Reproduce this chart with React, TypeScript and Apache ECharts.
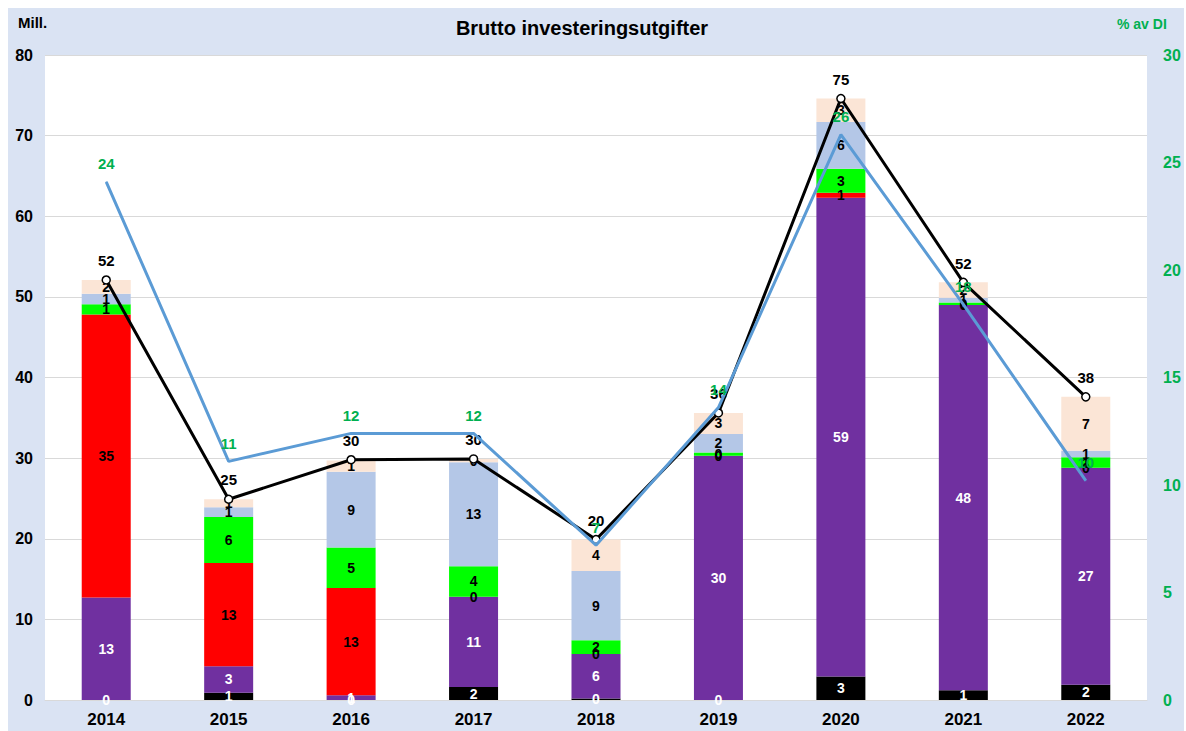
import React, { useEffect, useRef } from "react";
import * as echarts from "echarts";

const years = ["2014", "2015", "2016", "2017", "2018", "2019", "2020", "2021", "2022"];
const blackSeg = [0, 0.9, 0, 1.6, 0.2, 0, 2.9, 1.2, 1.9];
const purpleSeg = [12.7, 3.3, 0.6, 11.2, 5.5, 30.3, 59.4, 47.8, 26.9];
const redSeg = [35.1, 12.8, 13.3, 0, 0, 0, 0.6, 0, 0];
const greenSeg = [1.3, 5.7, 5.0, 3.8, 1.7, 0.4, 3.0, 0.3, 1.3];
const lightBlueSeg = [1.3, 1.2, 9.4, 12.9, 8.6, 2.3, 5.8, 0.6, 0.8];
const peachSeg = [1.7, 1.0, 1.4, 0.4, 3.9, 2.6, 2.9, 1.9, 6.7];
const totals = [52.1, 24.9, 29.8, 29.9, 19.9, 35.6, 74.6, 51.8, 37.6];
const pctOfDI = [24.1, 11.1, 12.4, 12.4, 7.2, 13.6, 26.3, 18.4, 10.2];
const leftTicks = { min: 0, max: 80, interval: 10 };
const rightTicks = { min: 0, max: 30, interval: 5 };

const FONT = 'Arial, "Liberation Sans", sans-serif';

export default function App() {
  const ref = useRef<HTMLDivElement>(null);
  useEffect(() => {
    if (!ref.current) return;
    const chart = echarts.init(ref.current, null, { renderer: "svg" });
    const fmt = (p: any) => String(Math.round(p.value));
    const barSeries = (name: string, data: number[], color: string, labelColor: string) => ({
      name,
      type: "bar",
      stack: "total",
      data,
      barWidth: 49,
      itemStyle: { color },
      label: {
        show: true,
        position: "inside",
        formatter: fmt,
        color: labelColor,
        fontFamily: FONT,
        fontWeight: "bold",
        fontSize: 14,
      },
    });
    chart.setOption({
      animation: false,
      backgroundColor: "#DAE3F3",
      textStyle: { fontFamily: FONT },
      grid: {
        left: 37,
        top: 47,
        right: 37,
        bottom: 31,
        show: true,
        backgroundColor: "#ffffff",
        borderWidth: 0,
      },
      graphic: [
        {
          type: "text",
          x: 574,
          y: 20,
          style: {
            text: "Brutto investeringsutgifter",
            fontFamily: FONT,
            fontWeight: "bold",
            fontSize: 20,
            fill: "#000",
            textAlign: "center",
            textVerticalAlign: "middle",
          },
        },
        {
          type: "text",
          x: 10,
          y: 14,
          style: {
            text: "Mill.",
            fontFamily: FONT,
            fontWeight: "bold",
            fontSize: 15,
            fill: "#000",
            textVerticalAlign: "middle",
          },
        },
        {
          type: "text",
          x: 1109,
          y: 16,
          style: {
            text: "% av DI",
            fontFamily: FONT,
            fontWeight: "bold",
            fontSize: 14,
            fill: "#00B050",
            textVerticalAlign: "middle",
          },
        },
      ],
      xAxis: {
        type: "category",
        data: years,
        axisLine: { show: true, lineStyle: { color: "#D9D9D9" } },
        axisTick: { show: false },
        axisLabel: {
          color: "#000",
          fontFamily: FONT,
          fontWeight: "bold",
          fontSize: 17,
          margin: 11,
        },
      },
      yAxis: [
        {
          type: "value",
          min: leftTicks.min,
          max: leftTicks.max,
          interval: leftTicks.interval,
          axisLine: { show: false },
          axisTick: { show: false },
          splitLine: { show: true, lineStyle: { color: "#D9D9D9", width: 1 } },
          axisLabel: {
            color: "#000",
            fontFamily: FONT,
            fontWeight: "bold",
            fontSize: 16,
            margin: 12,
          },
        },
        {
          type: "value",
          min: rightTicks.min,
          max: rightTicks.max,
          interval: rightTicks.interval,
          axisLine: { show: false },
          axisTick: { show: false },
          splitLine: { show: false },
          axisLabel: {
            color: "#00B050",
            fontFamily: FONT,
            fontWeight: "bold",
            fontSize: 16,
            margin: 16,
          },
        },
      ],
      series: [
        barSeries("Black", blackSeg, "#000000", "#ffffff"),
        barSeries("Purple", purpleSeg, "#7030A0", "#ffffff"),
        barSeries("Red", redSeg, "#FF0000", "#000000"),
        barSeries("Green", greenSeg, "#00FF00", "#000000"),
        barSeries("LightBlue", lightBlueSeg, "#B4C7E7", "#000000"),
        barSeries("Peach", peachSeg, "#FBE5D6", "#000000"),
        {
          name: "Total",
          type: "line",
          data: totals,
          yAxisIndex: 0,
          z: 5,
          symbol: "circle",
          symbolSize: 8,
          itemStyle: { color: "#ffffff", borderColor: "#000000", borderWidth: 1.5 },
          lineStyle: { color: "#000000", width: 3 },
          label: {
            show: true,
            position: "top",
            distance: 7,
            formatter: fmt,
            color: "#000",
            fontFamily: FONT,
            fontWeight: "bold",
            fontSize: 15,
          },
        },
        {
          name: "% av DI",
          type: "line",
          data: pctOfDI,
          yAxisIndex: 1,
          z: 6,
          symbol: "circle",
          symbolSize: 1,
          showSymbol: true,
          itemStyle: { color: "#5B9BD5" },
          lineStyle: { color: "#5B9BD5", width: 3 },
          label: {
            show: true,
            position: "top",
            distance: 10,
            formatter: fmt,
            color: "#00B050",
            fontFamily: FONT,
            fontWeight: "bold",
            fontSize: 15,
          },
        },
      ],
    });
    return () => chart.dispose();
  }, []);
  return (
    <div
      ref={ref}
      style={{
        position: "fixed",
        left: 8,
        top: 8,
        width: 1176,
        height: 723,
        boxSizing: "border-box",
      }}
    />
  );
}
